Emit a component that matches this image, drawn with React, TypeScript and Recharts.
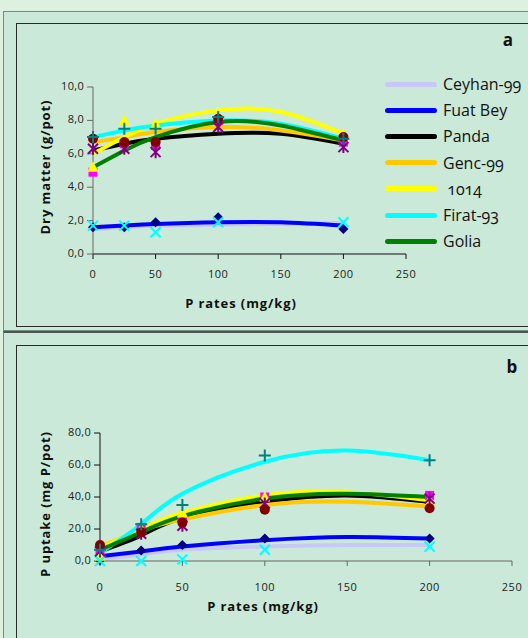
import React from 'react';
import { ComposedChart, Line, Scatter, XAxis, YAxis } from 'recharts';

// ---------- data ----------
const rates = [0, 25, 50, 100, 200];
const trendRates = [0, 25, 50, 100, 150, 200];
const cultivars = ['Ceyhan-99', 'Fuat Bey', 'Panda', 'Genc-99', ' 1014', 'Firat-93', 'Golia'];
const lineColors = ['#c8c8f6', '#0000ff', '#000000', '#ffc800', '#ffff00', '#00ffff', '#008000'];

const xTicks = [0, 50, 100, 150, 200, 250];
const dmTicks = [0, 2, 4, 6, 8, 10];
const upTicks = [0, 20, 40, 60, 80];

// Dry matter (g/pot) – trendlines at trendRates
const dmTrendCeyhan = [1.5, 1.6, 1.7, 1.75, 1.8, 1.85];
const dmTrendFuat = [1.6, 1.7, 1.8, 1.9, 1.9, 1.7];
const dmTrendPanda = [6.2, 6.6, 6.9, 7.2, 7.2, 6.6];
const dmTrendGenc = [6.7, 7.0, 7.3, 7.6, 7.4, 6.8];
const dmTrend1014 = [6.0, 7.0, 7.8, 8.6, 8.5, 7.2];
const dmTrendFirat = [7.0, 7.4, 7.7, 8.0, 7.8, 6.9];
const dmTrendGolia = [5.2, 6.2, 7.0, 7.9, 7.7, 6.8];

// Dry matter – measured points at rates (by marker)
const dmDiamond = [1.6, 1.6, 1.9, 2.2, 1.5];
const dmSquare = [4.9, 6.6, 6.5, 8.0, 6.7];
const dmTriangle = [5.2, 8.0, 7.8, 8.3, 7.2];
const dmCross = [1.7, 1.7, 1.3, 1.9, 1.9];
const dmStar = [6.3, 6.3, 6.1, 7.6, 6.4];
const dmCircle = [6.9, 6.7, 6.7, 8.1, 7.0];
const dmPlus = [7.0, 7.5, 7.5, 8.2, 6.9];

// P uptake (mg P/pot) – trendlines at trendRates
const upTrendCeyhan = [1, 4, 7, 9, 10, 10];
const upTrendFuat = [3, 6, 9, 13, 15, 14];
const upTrendPanda = [6, 16, 27, 37, 41, 37];
const upTrendGenc = [9, 19, 26, 35, 37, 34];
const upTrend1014 = [8, 20, 30, 41, 43, 38];
const upTrendFirat = [5, 23, 42, 62, 69, 63];
const upTrendGolia = [7, 18, 28, 39, 42, 40];

// P uptake – measured points at rates (by marker)
const upDiamond = [0.5, 6.5, 10, 14, 14];
const upSquare = [6, 21, 25, 40, 41];
const upTriangle = [3, 20, 30, 40, 38];
const upCross = [0, 0, 1, 7, 9];
const upStar = [6, 17, 22, 36, 39];
const upCircle = [10, 18, 24, 32, 33];
const upPlus = [7, 23, 35, 66, 63];

const FONT = '"Open Sans", "DejaVu Sans", sans-serif';

// ---------- markers ----------
type SP = { cx?: number; cy?: number };
const Diamond = (p: SP) =>
  p.cx == null ? <g /> : (
    <path d={`M${p.cx},${p.cy! - 5}L${p.cx + 5},${p.cy}L${p.cx},${p.cy! + 5}L${p.cx - 5},${p.cy}Z`} fill="#000080" />
  );
const Square = (p: SP) =>
  p.cx == null ? <g /> : <rect x={p.cx - 4.5} y={p.cy! - 4.5} width={9} height={9} fill="#ff00ff" />;
const Triangle = (p: SP) =>
  p.cx == null ? <g /> : (
    <path d={`M${p.cx},${p.cy! - 6}L${p.cx + 5.5},${p.cy! + 4.5}L${p.cx - 5.5},${p.cy! + 4.5}Z`} fill="#ffff00" />
  );
const Cross = (p: SP) =>
  p.cx == null ? <g /> : (
    <path d={`M${p.cx - 5},${p.cy! - 5}L${p.cx + 5},${p.cy! + 5}M${p.cx + 5},${p.cy! - 5}L${p.cx - 5},${p.cy! + 5}`} stroke="#00ffff" strokeWidth={2} />
  );
const Star = (p: SP) =>
  p.cx == null ? <g /> : (
    <path d={`M${p.cx - 5},${p.cy! - 5}L${p.cx + 5},${p.cy! + 5}M${p.cx + 5},${p.cy! - 5}L${p.cx - 5},${p.cy! + 5}M${p.cx},${p.cy! - 6}L${p.cx},${p.cy! + 6}`} stroke="#800080" strokeWidth={2} />
  );
const Circle = (p: SP) =>
  p.cx == null ? <g /> : <circle cx={p.cx} cy={p.cy} r={5} fill="#800000" />;
const Plus = (p: SP) =>
  p.cx == null ? <g /> : (
    <path d={`M${p.cx - 6},${p.cy}L${p.cx + 6},${p.cy}M${p.cx},${p.cy! - 6}L${p.cx},${p.cy! + 6}`} stroke="#008080" strokeWidth={2} />
  );

const toPts = (xs: number[], ys: number[]) => xs.map((x, i) => ({ x, y: ys[i] }));

const comma = (v: number) => v.toFixed(1).replace('.', ',');

const XTick = (props: any) => {
  const { x, y, payload } = props;
  return (
    <text x={x} y={y} dy={4} textAnchor="middle" fontSize={11} fontFamily={FONT} fill="#222" dominantBaseline="middle" letterSpacing={0.5}>
      {payload.value}
    </text>
  );
};
const YTick = (props: any) => {
  const { x, y, payload } = props;
  return (
    <text x={x} y={y} textAnchor="end" fontSize={11} fontFamily={FONT} fill="#222" dominantBaseline="middle" letterSpacing={0.3}>
      {comma(payload.value)}
    </text>
  );
};

function Panel(props: {
  width: number;
  height: number;
  margin: any;
  yDomain: [number, number];
  yTicks: number[];
  trends: number[][];
  points: number[][];
  xTickMargin: number;
  xStroke: string;
  yStroke: string;
}) {
  const shapes = [Diamond, Square, Triangle, Cross, Star, Circle, Plus];
  return (
    <ComposedChart width={props.width} height={props.height} margin={props.margin}>
      <XAxis
        dataKey="x"
        type="number"
        domain={[0, 250]}
        ticks={xTicks}
        tickSize={5}
        tickMargin={props.xTickMargin}
        tick={<XTick />}
        stroke={props.xStroke}
      />
      <YAxis
        dataKey="y"
        type="number"
        domain={props.yDomain}
        ticks={props.yTicks}
        tickSize={6}
        tickMargin={3}
        tick={<YTick />}
        stroke={props.yStroke}
        width={50}
      />
      {props.points.map((arr, i) => (
        <Scatter key={'s' + i} data={toPts(rates, arr)} dataKey="y" shape={shapes[i]} isAnimationActive={false} />
      ))}
      {props.trends.map((arr, i) => (
        <Line
          key={'l' + i}
          data={toPts(trendRates, arr)}
          dataKey="y"
          type="natural"
          stroke={lineColors[i]}
          strokeWidth={4}
          dot={false}
          activeDot={false}
          isAnimationActive={false}
        />
      ))}
    </ComposedChart>
  );
}

export default function App() {
  const panelBg = '#cbe9d8';
  return (
    <div style={{ position: 'absolute', left: 0, top: 0, width: 528, height: 638, background: '#def0e0', overflow: 'hidden', fontFamily: FONT }}>
      {/* frames */}
      <div style={{ position: 'absolute', left: 3, top: 11, width: 540, height: 318, border: '1px solid #6f8f7e', background: panelBg }} />
      <div style={{ position: 'absolute', left: 16, top: 23, width: 530, height: 302, border: '1px solid #2a2a2a' }} />
      <div style={{ position: 'absolute', left: 3, top: 331, width: 540, height: 320, borderLeft: '1px solid #6f8f7e', borderTop: '2px solid #555', background: panelBg }} />
      <div style={{ position: 'absolute', left: 16, top: 345, width: 530, height: 310, border: '1px solid #2a2a2a' }} />

      {/* panel a */}
      <div style={{ position: 'absolute', left: 0, top: 0 }}>
        <Panel
          width={528}
          height={330}
          margin={{ top: 87, right: 122, bottom: 46, left: 43 }}
          yDomain={[0, 10]}
          yTicks={dmTicks}
          trends={[dmTrendCeyhan, dmTrendFuat, dmTrendPanda, dmTrendGenc, dmTrend1014, dmTrendFirat, dmTrendGolia]}
          points={[dmDiamond, dmSquare, dmTriangle, dmCross, dmStar, dmCircle, dmPlus]}
          xTickMargin={12}
          xStroke="#111"
          yStroke="#666"
        />
      </div>
      {/* panel b */}
      <div style={{ position: 'absolute', left: 0, top: 330 }}>
        <Panel
          width={528}
          height={308}
          margin={{ top: 103, right: 16, bottom: 47, left: 50 }}
          yDomain={[0, 80]}
          yTicks={upTicks}
          trends={[upTrendCeyhan, upTrendFuat, upTrendPanda, upTrendGenc, upTrend1014, upTrendFirat, upTrendGolia]}
          points={[upDiamond, upSquare, upTriangle, upCross, upStar, upCircle, upPlus]}
          xTickMargin={18}
          xStroke="#666"
          yStroke="#111"
        />
      </div>

      {/* titles */}
      <svg width={528} height={638} style={{ position: 'absolute', left: 0, top: 0, pointerEvents: 'none' }}>
        <text x={508} y={46} textAnchor="middle" fontSize={17} fontWeight="bold" fontFamily={FONT} fill="#111">a</text>
        <text x={512} y={373} textAnchor="middle" fontSize={17} fontWeight="bold" fontFamily={FONT} fill="#111">b</text>
        <text transform="translate(50,167) rotate(-90)" textAnchor="middle" fontSize={13} fontWeight="bold" fontFamily={FONT} fill="#111" letterSpacing={0.9}>Dry matter (g/pot)</text>
        <text x={241} y={308} textAnchor="middle" fontSize={13} fontWeight="bold" fontFamily={FONT} fill="#111" letterSpacing={0.9}>P rates (mg/kg)</text>
        <text transform="translate(50,504) rotate(-90)" textAnchor="middle" fontSize={13} fontWeight="bold" fontFamily={FONT} fill="#111" letterSpacing={0.9}>P uptake (mg P/pot)</text>
        <text x={263} y={611} textAnchor="middle" fontSize={13} fontWeight="bold" fontFamily={FONT} fill="#111" letterSpacing={0.9}>P rates (mg/kg)</text>
      </svg>

      {/* legend */}
      {cultivars.map((name, i) => (
        <div key={name} style={{ position: 'absolute', left: 385, top: 84 + i * 26.2 - 11, height: 22, display: 'flex', alignItems: 'center' }}>
          <div style={{ width: 52, height: 5, borderRadius: 3, background: lineColors[i] }} />
          <span style={{ marginLeft: 6, fontSize: 16, color: '#111', whiteSpace: 'pre', fontVariantNumeric: 'oldstyle-nums' }}>{name}</span>
        </div>
      ))}
    </div>
  );
}
